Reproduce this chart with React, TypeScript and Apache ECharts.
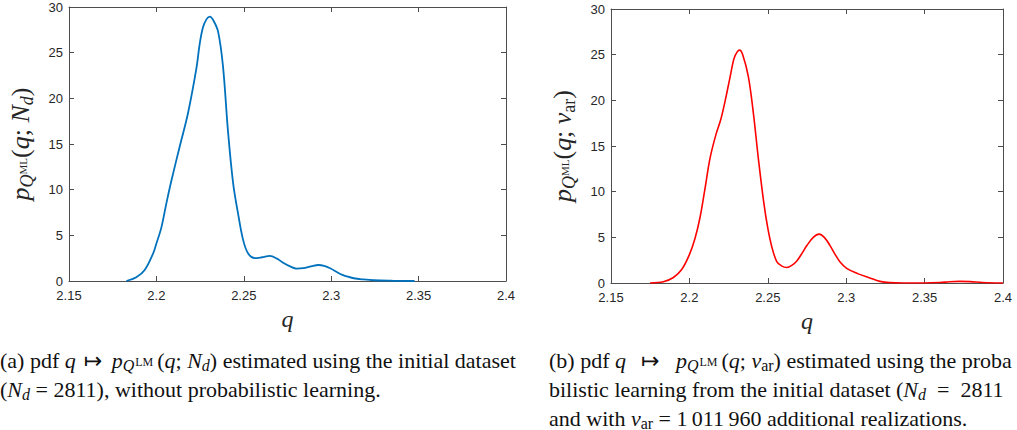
import React, { useEffect, useRef } from "react";
import * as echarts from "echarts";

// ---- data ----
const xTicks = [2.15, 2.2, 2.25, 2.3, 2.35, 2.4];
const yTicks = [0, 5, 10, 15, 20, 25, 30];

// (a) pdf estimated from initial dataset (q, p)
const pdfInitial: [number, number][] = [
  [2.1828, 0], [2.1885, 0.4], [2.1933, 1.2], [2.1981, 3.0], [2.2, 4.1],
  [2.2029, 5.9], [2.2057, 8.5], [2.2086, 11.0], [2.2133, 14.7], [2.2181, 18.4],
  [2.2229, 23.3], [2.2248, 26.0], [2.2267, 27.8], [2.2288, 28.7], [2.2306, 28.95],
  [2.2327, 28.5], [2.2353, 27.3], [2.2381, 23.5], [2.241, 16.3], [2.2439, 10.7],
  [2.2467, 7.4], [2.2496, 4.5], [2.2525, 3.0], [2.2563, 2.5], [2.2605, 2.6],
  [2.2649, 2.75], [2.269, 2.45], [2.2725, 2.0], [2.2765, 1.6], [2.2802, 1.35],
  [2.284, 1.4], [2.2885, 1.6], [2.2926, 1.75], [2.296, 1.65], [2.2994, 1.39],
  [2.3052, 0.77], [2.309, 0.5], [2.3129, 0.3], [2.3185, 0.17], [2.3243, 0.08],
  [2.335, 0.03], [2.3477, 0],
];

// (b) pdf estimated with probabilistic learning (q, p)
const pdfLearned: [number, number][] = [
  [2.1749, 0], [2.1834, 0.14], [2.1898, 0.6], [2.1952, 1.5], [2.2, 3.1],
  [2.2036, 4.9], [2.2068, 7.2], [2.21, 10.4], [2.2132, 13.7], [2.217, 16.3],
  [2.22, 17.9], [2.223, 20.1], [2.226, 22.6], [2.2285, 24.6], [2.2305, 25.3],
  [2.232, 25.5], [2.234, 25.0], [2.2376, 22.6], [2.2408, 18.6], [2.244, 13.6],
  [2.2476, 8.6], [2.25, 6.0], [2.2525, 4.0], [2.2557, 2.35], [2.259, 1.85],
  [2.2621, 1.7], [2.2655, 1.95], [2.2685, 2.4], [2.272, 3.3], [2.2749, 4.1],
  [2.279, 5.0], [2.2827, 5.35], [2.286, 5.0], [2.2897, 4.1], [2.293, 3.1],
  [2.2961, 2.3], [2.3003, 1.6], [2.3077, 1.0], [2.3151, 0.55], [2.3215, 0.18],
  [2.3278, 0.04], [2.3363, 0], [2.349, 0], [2.3597, 0.05], [2.366, 0.14],
  [2.3723, 0.18], [2.379, 0.15], [2.387, 0.06], [2.4, 0],
];

const ink = "#262626";
const capInk = "#111111";
const axisGray = "#4d4d4d";
const serif = "'Liberation Serif', 'DejaVu Serif', serif";
const sans = "'Liberation Sans', Arial, sans-serif";

const nameRich = {
  p: { fontFamily: serif, fontStyle: "italic", fontSize: 26, color: ink },
  i: { fontFamily: serif, fontStyle: "italic", fontSize: 26, color: ink },
  n: { fontFamily: serif, fontSize: 26, color: ink },
  sub: { fontFamily: serif, fontStyle: "italic", fontSize: 18, color: ink, padding: [13, 0, 0, 0] },
  subr: { fontFamily: serif, fontSize: 18, color: ink, padding: [13, 0, 0, 0] },
  sup: { fontFamily: serif, fontSize: 11, color: ink, padding: [5, 0, 0, 0] },
};

function xAxesFor(gridIndex: number) {
  const common = {
    type: "value",
    gridIndex,
    min: xTicks[0],
    max: xTicks[xTicks.length - 1],
    interval: 0.05,
    splitLine: { show: false },
    axisLine: { show: true, onZero: false, lineStyle: { color: axisGray, width: 1 } },
    axisTick: { show: true, inside: true, length: 5, lineStyle: { color: axisGray } },
  };
  return [
    {
      ...common,
      position: "bottom",
      axisLabel: {
        color: ink, fontSize: 13, fontFamily: sans, margin: 8,
        formatter: (v: number) => String(Math.round(v * 100) / 100),
      },
      name: "q",
      nameLocation: "middle",
      nameGap: 25,
      nameTextStyle: { fontFamily: serif, fontStyle: "italic", fontSize: 24, color: ink },
    },
    { ...common, position: "top", axisLabel: { show: false } },
  ];
}

function yAxesFor(gridIndex: number, name: string) {
  const common = {
    type: "value",
    gridIndex,
    min: yTicks[0],
    max: yTicks[yTicks.length - 1],
    interval: 5,
    splitLine: { show: false },
    axisLine: { show: true, onZero: false, lineStyle: { color: axisGray, width: 1 } },
    axisTick: { show: true, inside: true, length: 5, lineStyle: { color: axisGray } },
  };
  return [
    {
      ...common,
      position: "left",
      axisLabel: { color: ink, fontSize: 13, fontFamily: sans, margin: 6 },
      name,
      nameLocation: "middle",
      nameGap: 33,
      nameTextStyle: { rich: nameRich },
    },
    { ...common, position: "right", axisLabel: { show: false } },
  ];
}

const capRich = {
  n: { fontFamily: serif, fontSize: 22, color: capInk },
  i: { fontFamily: serif, fontStyle: "italic", fontSize: 22, color: capInk },
  m: { fontFamily: "'DejaVu Sans', sans-serif", fontSize: 22, color: capInk, padding: [0, 4, 0, 8] },
  s: { fontFamily: serif, fontStyle: "italic", fontSize: 16, color: capInk, padding: [10, 0, 0, 0] },
  ss: { fontFamily: serif, fontSize: 16, color: capInk, padding: [10, 0, 0, 0] },
  sp: { fontFamily: serif, fontSize: 12, color: capInk, padding: [4, 4, 0, 1] },
};

const captions = [
  { x: 0, y: 360, text: "{n|(a) pdf }{i|q}{m|\u21A6}{i| p}{s|Q}{sp|LM}{n|(}{i|q}{n|; }{i|N}{s|d}{n|) estimated using the initial dataset}" },
  { x: 0, y: 389, text: "{n|(}{i|N}{s|d}{n| = 2811), without probabilistic learning.}" },
  { x: 549, y: 360, text: "{n|(b) pdf }{i|q}{m| \u21A6 }{i| p}{s|Q}{sp|LM}{n|(}{i|q}{n|; }{i|\u03BD}{ss|ar}{n|) estimated using the proba}" },
  { x: 549, y: 389, text: "{n|bilistic learning from the initial dataset (}{i|N}{s|d}{n|  =  2811}" },
  { x: 549, y: 418, text: "{n|and with }{i|\u03BD}{ss|ar}{n| = 1\u2009011\u2009960 additional realizations.}" },
];

export default function App() {
  const ref = useRef<HTMLDivElement>(null);
  useEffect(() => {
    if (!ref.current) return;
    const chart = echarts.init(ref.current, undefined, { renderer: "svg" });
    chart.setOption({
      animation: false,
      backgroundColor: "#ffffff",
      grid: [
        { left: 69, top: 7, width: 437, height: 274 },
        { left: 611, top: 9, width: 392, height: 274 },
      ],
      xAxis: [...xAxesFor(0), ...xAxesFor(1)],
      yAxis: [
        ...yAxesFor(0, "{p|p}{sub|Q}{sup|ML}{n|(}{i|q}{n|; }{i|N}{sub|d}{n|)}"),
        ...yAxesFor(1, "{p|p}{sub|Q}{sup|ML}{n|(}{i|q}{n|; }{i|\u03BD}{subr|ar}{n|)}"),
      ],
      series: [
        {
          type: "line",
          xAxisIndex: 0,
          yAxisIndex: 0,
          data: pdfInitial,
          showSymbol: false,
          smooth: 0.35,
          lineStyle: { color: "#0072BD", width: 1.8 },
          itemStyle: { color: "#0072BD" },
        },
        {
          type: "line",
          xAxisIndex: 2,
          yAxisIndex: 2,
          data: pdfLearned,
          showSymbol: false,
          smooth: 0.35,
          lineStyle: { color: "#FF0000", width: 1.6 },
          itemStyle: { color: "#FF0000" },
        },
      ],
      graphic: captions.map((c) => ({
        type: "text",
        x: c.x,
        y: c.y,
        style: {
          text: c.text,
          rich: capRich,
          verticalAlign: "middle",
          fill: capInk,
          font: `22px ${serif}`,
        },
      })),
    });
    return () => chart.dispose();
  }, []);
  return (
    <div
      ref={ref}
      style={{ position: "fixed", left: 0, top: 0, width: 1017, height: 430, overflow: "hidden", background: "#fff" }}
    />
  );
}
